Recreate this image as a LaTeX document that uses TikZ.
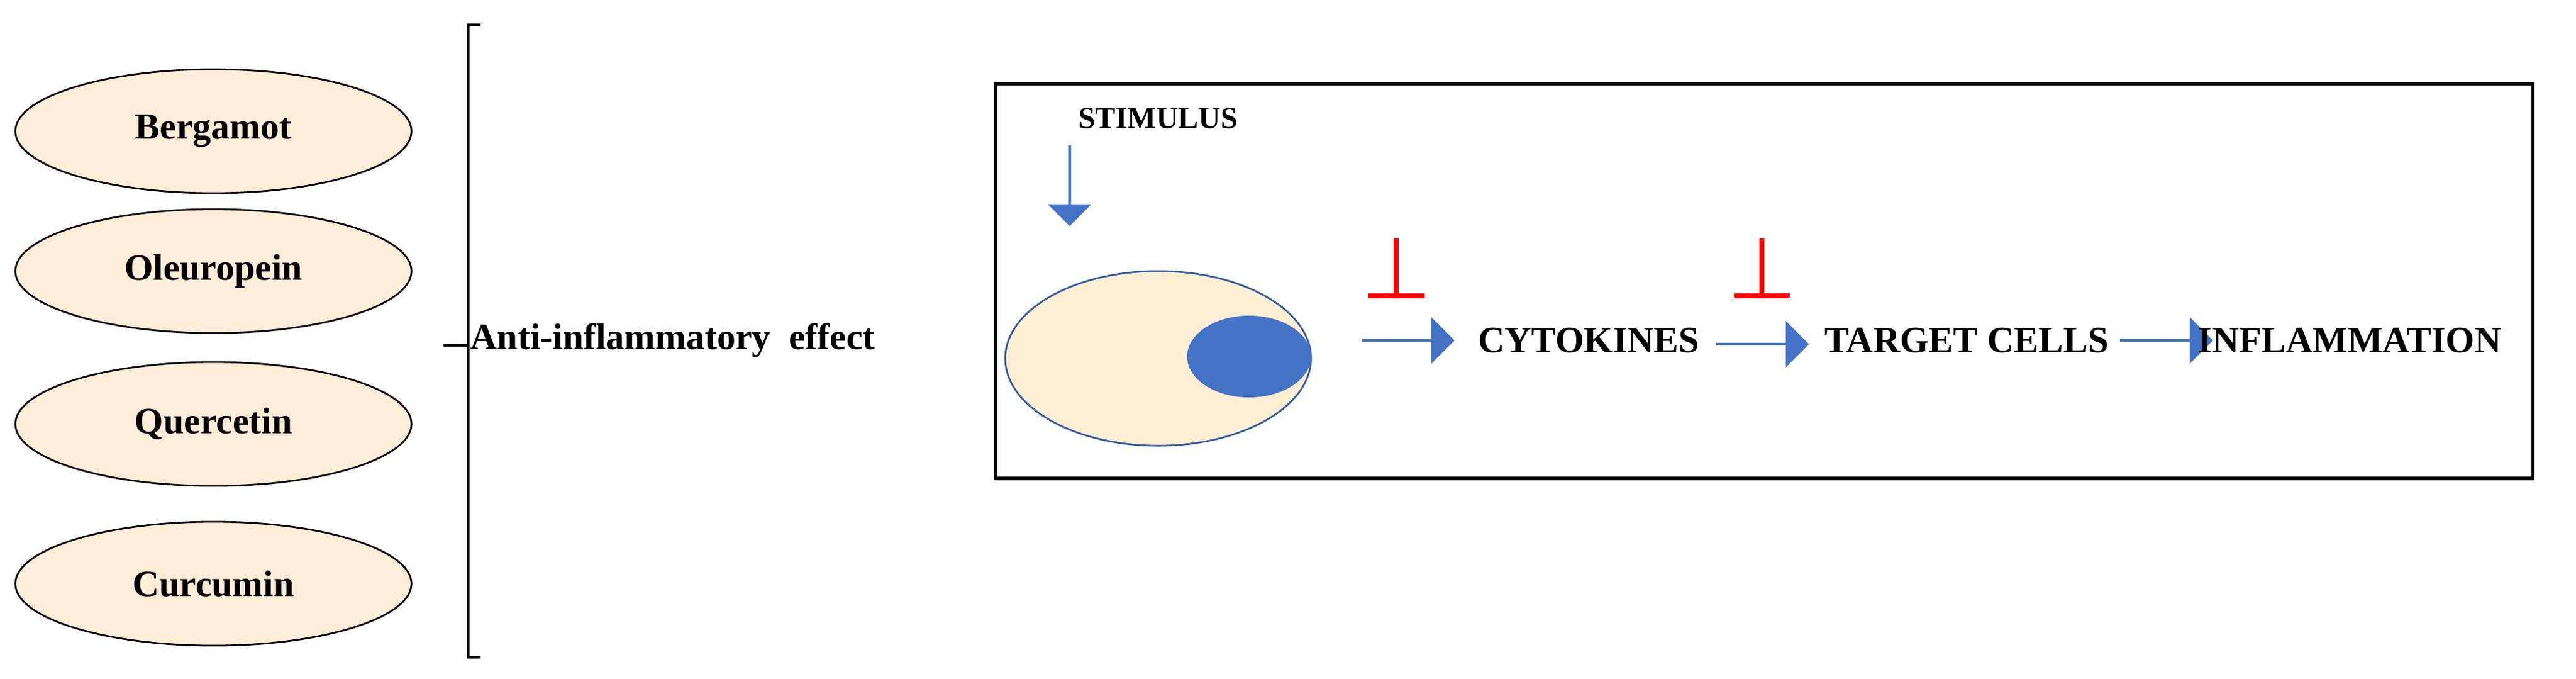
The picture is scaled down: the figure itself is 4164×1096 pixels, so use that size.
\documentclass[tikz,border=0pt]{standalone}
\usepackage{fontspec}
\setmainfont{Liberation Serif}
\usetikzlibrary{shapes.geometric,shapes.arrows}
\begin{document}
\begin{tikzpicture}[x=0.01cm,y=-0.01cm,
  herb/.style={ellipse,draw=black,fill=orange!15!white,line width=0.8pt,minimum width=6.4cm,minimum height=2cm,font=\bfseries\fontsize{17}{20}\selectfont},
  lbl/.style={font=\bfseries\fontsize{17}{20}\selectfont,inner sep=0pt},
  barrow/.style={single arrow,fill=blue!55!cyan!60!black,draw=none,minimum height=1.5cm,minimum width=0.75cm,single arrow head extend=0.12cm,inner sep=0pt},
  inhib/.style={red,line width=2.2pt}]
\useasboundingbox (0,0) rectangle (4164,1096);
\definecolor{bl}{RGB}{68,114,196}
\tikzset{barrow/.append style={fill=bl}}
\node[herb] (b) at (345,212) {Bergamot};
\node[herb] (o) at (345,438) {Oleuropein};
\node[herb] (q) at (345,685) {Quercetin};
\node[herb] (c) at (345,943) {Curcumin};
\coordinate (bt) at (757,40);
\coordinate (bb) at (757,1062);
\coordinate (bm) at (717,558);
\draw[line width=1pt] ([xshift=0.2cm]bt) -- (bt) -- (bb) -- ([xshift=0.2cm]bb);
\draw[line width=1pt] (bm) -- (757,558);
\node[lbl,anchor=west] (ai) at (760,550) {Anti-inflammatory\ \ effect};
\node[draw=black,line width=1.5pt,minimum width=24.83cm,minimum height=6.37cm,anchor=north west] (box) at (1607,133) {};
\node[lbl,font=\bfseries\fontsize{14}{16}\selectfont] (st) at (1872,191) {STIMULUS};
\node[single arrow,fill=bl,rotate=-90,minimum height=1.3cm,minimum width=0.7cm,single arrow head extend=0.1cm,inner sep=0pt] (sa) at (1729,299) {};
\node[ellipse,draw=bl!80!black,fill=yellow!20!orange!15!white,line width=0.8pt,minimum width=4.94cm,minimum height=2.82cm] (cell) at (1872,579) {};
\node[ellipse,fill=bl,minimum width=2cm,minimum height=1.32cm] (nuc) at (2019,576) {};
\node[barrow] (a1) at (2275,550) {};
\node[lbl] (cy) at (2568,550) {CYTOKINES};
\node[barrow] (a2) at (2848,556) {};
\node[lbl] (tc) at (3179,550) {TARGET CELLS};
\node[barrow] (a3) at (3501,550) {};
\node[lbl] (inf) at (3798,550) {INFLAMMATION};
\coordinate (i1t) at (2257,385); \coordinate (i1b) at (2257,478);
\draw[inhib] (i1t) -- (i1b); \draw[inhib] (2212,478) -- (2303,478);
\coordinate (i2t) at (2848,385); \coordinate (i2b) at (2848,478);
\draw[inhib] (i2t) -- (i2b); \draw[inhib] (2803,478) -- (2893,478);
\end{tikzpicture}
\end{document}
